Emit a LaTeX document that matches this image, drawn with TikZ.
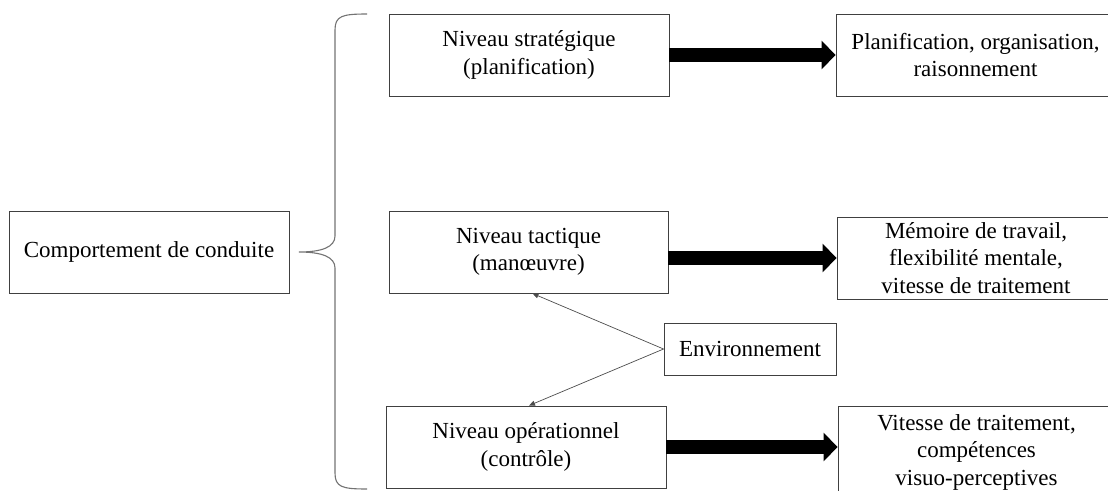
\documentclass[tikz,border=0pt]{standalone}
\usepackage{fontspec}
\setmainfont{Liberation Serif}
\newfontfamily\boxfont{Liberation Serif}
\usetikzlibrary{arrows.meta}
\begin{document}
\begin{tikzpicture}[x=1pt,y=-1pt,
  boxstyle/.style={draw=black!75, line width=0.9pt, rectangle, inner sep=0pt,
    align=center, font=\boxfont\fontsize{23}{27.5}\selectfont, text=black},
  bigarrow/.style={line width=14pt, -{Triangle[length=14pt,width=28pt]}, black},
  thinarrow/.style={draw=black!70, line width=0.7pt, -{Triangle[length=6pt,width=5pt]}},
  bracestyle/.style={draw=black!55, line width=1.1pt}]
\useasboundingbox (0,0) rectangle (1108,490);
\clip (0,0) rectangle (1108,490);
\node[boxstyle, minimum width=280pt, minimum height=82pt] (c) at (149,252) {Comportement de conduite};
\node[boxstyle, minimum width=280pt, minimum height=82pt] (b1) at (529,55) {Niveau stratégique\\(planification)};
\node[boxstyle, minimum width=279pt, minimum height=82pt] (b2) at (528.5,252) {Niveau tactique\\(manœuvre)};
\node[boxstyle, minimum width=280pt, minimum height=82pt] (b3) at (526,447) {Niveau opérationnel\\(contrôle)};
\node[boxstyle, minimum width=279pt, minimum height=82pt] (r1) at (975.5,55) {Planification, organisation,\\raisonnement};
\node[boxstyle, minimum width=278pt, minimum height=82pt] (r2) at (976,258) {Mémoire de travail,\\flexibilité mentale,\\vitesse de traitement};
\node[boxstyle, minimum width=277pt, minimum height=92pt] (r3) at (976.5,452) {Vitesse de traitement,\\compétences\\visuo-perceptives};
\node[boxstyle, minimum width=172pt, minimum height=52pt] (env) at (750,349) {Environnement};
% brace
\coordinate (bt) at (367,14);
\coordinate (bm) at (299,252);
\coordinate (bb) at (367,489);
\draw[bracestyle] (bt) .. controls (342,14) and (335,16) .. (335,30) -- (335,236)
  .. controls (335,247) and (322,252) .. (bm)
  .. controls (322,252) and (335,257) .. (335,268) -- (335,473)
  .. controls (335,487) and (342,489) .. (bb);
% thick arrows
\draw[bigarrow] (b1.east) -- (r1.west);
\draw[bigarrow] (b2.east |- r2.west) -- (r2.west);
\draw[bigarrow] (b3.east) -- (b3.east -| r3.west);
% environment arrows
\draw[thinarrow] (env.west) -- ([xshift=4pt]b2.south);
\draw[thinarrow] (env.west) -- ([xshift=3pt]b3.north);
\end{tikzpicture}
\end{document}
